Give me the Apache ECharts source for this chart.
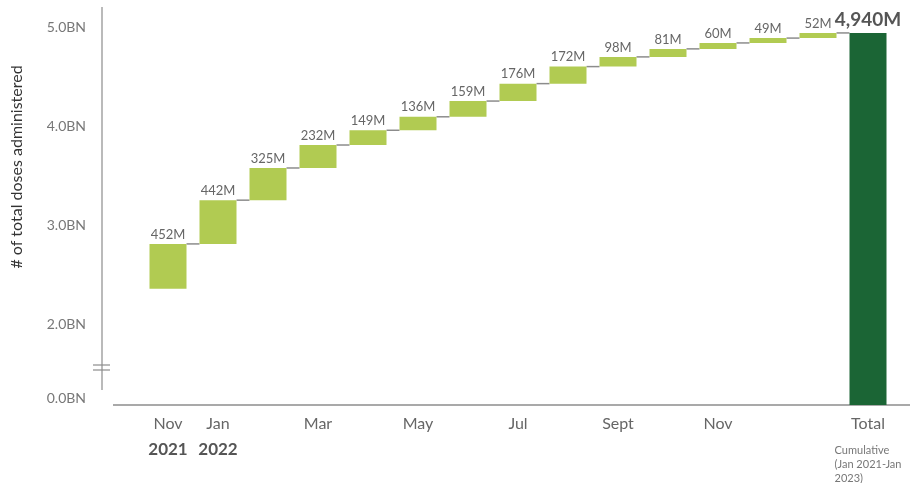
<!DOCTYPE html>
<html>
<head>
<meta charset="utf-8">
<script src="https://cdn.jsdelivr.net/npm/echarts@6/dist/echarts.min.js"></script>
<style>
  html, body { margin: 0; padding: 0; background: #fff; }
  #main { width: 915px; height: 483px; }
</style>
</head>
<body>
<div id="main"></div>
<script>
// monthly doses (M), Nov 2021 .. Jan 2023, plus the cumulative total
const categories = ['Nov 2021', 'Jan 2022', 'Feb 2022', 'Mar 2022', 'Apr 2022', 'May 2022', 'Jun 2022',
  'Jul 2022', 'Aug 2022', 'Sep 2022', 'Oct 2022', 'Nov 2022', 'Dec 2022', 'Jan 2023', 'Total'];
const tickLabels = ['Nov\n2021', 'Jan\n2022', '', 'Mar', '', 'May', '', 'Jul', '', 'Sept', '', 'Nov', '', '', 'Total'];
const monthlyDoses = [452, 442, 325, 232, 149, 136, 159, 176, 172, 98, 81, 60, 49, 52];
const totalDoses = 4940;
const yTickValues = [1250, 2000, 3000, 4000, 5000]; // 1250 sits where the broken axis shows 0.0BN

let lightGreen = '#b1cb52';
let darkGreen = '#1b6535';
let lineGray = '#8c8c8c';
let font = 'Lato, "Open Sans", sans-serif';

// waterfall: invisible base + visible step
let sum = monthlyDoses.reduce((a, b) => a + b, 0);
let running = totalDoses - sum;
let baseData = [], stepData = [], connectors = [];
monthlyDoses.forEach((v, i) => {
  baseData.push(running);
  stepData.push(v);
  running += v;
  connectors.push([i, running]);
});
baseData.push('-');
stepData.push('-');
let totalData = monthlyDoses.map(() => '-').concat([totalDoses]);

const chart = echarts.init(document.getElementById('main'));
chart.setOption({
  animation: false,
  textStyle: { fontFamily: font },
  grid: { left: 143, right: 22, top: 7, bottom: 78, outerBoundsMode: 'none' },
  xAxis: {
    type: 'category',
    data: categories,
    axisLine: { show: false },
    axisTick: { show: false },
    axisLabel: {
      interval: 0,
      hideOverlap: false,
      margin: 8,
      formatter: function (val, idx) {
        let t = tickLabels[idx];
        if (!t) return '';
        if (t === 'Total') {
          return '{m|Total}\n{s| }\n{c|Cumulative}\n{c|(Jan 2021-Jan}\n{c|2023)}';
        }
        let parts = t.split('\n');
        return parts.length > 1 ? '{m|' + parts[0] + '}\n{y|' + parts[1] + '}' : '{m|' + t + '}';
      },
      rich: {
        m: { fontSize: 16, color: '#666', lineHeight: 22, fontFamily: font },
        y: { fontSize: 17, fontWeight: 'bold', color: '#555', lineHeight: 30, fontFamily: font },
        s: { fontSize: 4, lineHeight: 8 },
        c: { fontSize: 11, color: '#777', lineHeight: 14, align: 'left', fontFamily: font }
      }
    }
  },
  yAxis: {
    type: 'value',
    min: 1182,
    max: 5202,
    axisLine: { show: false },
    axisTick: { show: false },
    splitLine: { show: false },
    axisLabel: {
      customValues: yTickValues,
      margin: 57,
      fontSize: 14,
      color: '#777',
      formatter: function (v) {
        return v === 1250 ? '0.0BN' : (v / 1000).toFixed(1) + 'BN';
      }
    }
  },
  graphic: [
    // y axis line with break marks, x axis baseline
    { type: 'line', shape: { x1: 102, y1: 7, x2: 102, y2: 390 }, style: { stroke: lineGray, lineWidth: 1.2 } },
    { type: 'line', shape: { x1: 93, y1: 365, x2: 110, y2: 365 }, style: { stroke: lineGray, lineWidth: 1.2 } },
    { type: 'line', shape: { x1: 93, y1: 370, x2: 110, y2: 370 }, style: { stroke: lineGray, lineWidth: 1.2 } },
    { type: 'line', shape: { x1: 113, y1: 405, x2: 910, y2: 405 }, style: { stroke: lineGray, lineWidth: 1.5 } },
    {
      type: 'text', x: 17, y: 167, rotation: Math.PI / 2,
      style: { text: '# of total doses administered', align: 'center', verticalAlign: 'middle',
        font: '16px ' + font, fill: '#333' }
    }
  ],
  series: [
    {
      name: 'base',
      type: 'bar',
      stack: 'w',
      barWidth: 37,
      itemStyle: { color: 'transparent' },
      silent: true,
      data: baseData
    },
    {
      name: 'monthly',
      type: 'bar',
      stack: 'w',
      barWidth: 37,
      itemStyle: { color: lightGreen },
      label: {
        show: true,
        position: 'top',
        distance: 3,
        fontSize: 13,
        color: '#666',
        formatter: '{c}M'
      },
      data: stepData
    },
    {
      name: 'total',
      type: 'bar',
      stack: 'w',
      barWidth: 37,
      itemStyle: { color: darkGreen },
      label: {
        show: true,
        position: 'top',
        distance: 4,
        fontSize: 19,
        fontWeight: 'bold',
        color: '#555',
        formatter: function (p) { return p.value.toLocaleString('en-US') + 'M'; }
      },
      data: totalData
    },
    {
      name: 'connector',
      type: 'custom',
      silent: true,
      z: 1,
      renderItem: function (params, api) {
        let p = api.coord([api.value(0), api.value(1)]);
        let q = api.coord([api.value(0) + 1, api.value(1)]);
        let half = 18.5;
        return {
          type: 'line',
          shape: { x1: p[0] + half, y1: p[1], x2: q[0] - half, y2: p[1] },
          style: { stroke: lineGray, lineWidth: 1.5 }
        };
      },
      data: connectors
    }
  ]
});
</script>
</body>
</html>
